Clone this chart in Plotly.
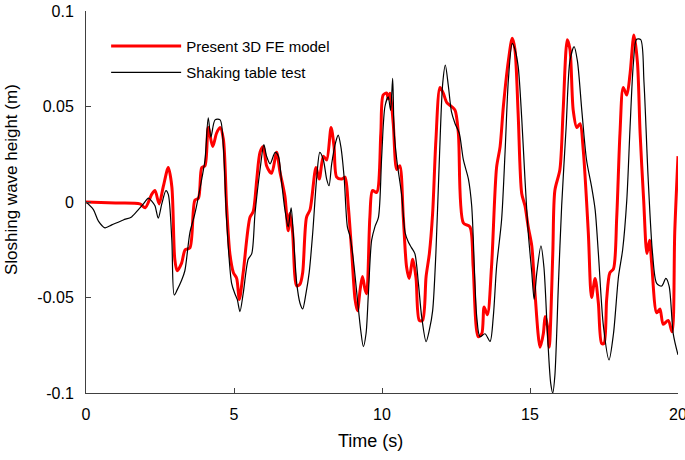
import plotly.graph_objects as go

# Present 3D FE model (red)
fe_t = [0, 1.0, 1.82, 2.0, 2.22, 2.33, 2.47, 2.61, 2.78, 2.9, 3.0, 3.08, 3.23, 3.35, 3.51, 3.68, 3.8, 3.91, 4.02, 4.13,
        4.28, 4.41, 4.53, 4.64, 4.75, 4.86, 4.98, 5.09, 5.18, 5.31, 5.54, 5.65, 5.77, 5.88, 5.99, 6.1, 6.27, 6.44, 6.55,
        6.72, 6.83, 6.89, 6.98, 7.12, 7.23, 7.32, 7.45, 7.57, 7.77, 7.88, 8.02, 8.13, 8.28, 8.38, 8.47, 8.64, 8.75, 8.86,
        8.98, 9.09, 9.17, 9.26, 9.34, 9.43, 9.48, 9.59, 9.68, 9.82, 9.96, 10.04, 10.16, 10.21, 10.27, 10.38, 10.5, 10.6,
        10.72, 10.83, 10.92, 11.04, 11.15, 11.26, 11.37, 11.49, 11.6, 11.71, 11.82, 11.96, 12.07, 12.19, 12.35, 12.47,
        12.58, 12.75, 12.97, 13.08, 13.25, 13.37, 13.45, 13.56, 13.7, 13.87, 13.99, 14.1, 14.27, 14.4, 14.49, 14.6, 14.72,
        14.83, 14.94, 15.06, 15.17, 15.34, 15.45, 15.51, 15.59, 15.65, 15.77, 15.84, 16.01, 16.12, 16.26, 16.35, 16.46,
        16.58, 16.69, 16.8, 16.97, 17.08, 17.2, 17.31, 17.42, 17.5, 17.59, 17.7, 17.82, 17.93, 18.04, 18.15, 18.27, 18.38,
        18.51, 18.63, 18.72, 18.84, 18.95, 19.04, 19.11, 19.28, 19.39, 19.5, 19.67, 19.8, 19.89, 20.0]
fe_h = [0, -0.0005, -0.001, -0.003, 0.004, 0.006, -0.001, 0.008, 0.018, 0.008, -0.030, -0.036, -0.032, -0.025, -0.024,
        0.001, 0.002, 0.018, 0.019, 0.039, 0.029, 0.036, 0.039, 0.033, -0.002, -0.027, -0.037, -0.040, -0.051, -0.037,
        -0.008, -0.005, 0.012, 0.026, 0.029, 0.019, 0.015, 0.026, 0.016, 0.003, -0.015, -0.006, -0.016, -0.044, -0.043,
        -0.037, -0.008, -0.004, 0.018, 0.012, 0.024, 0.022, 0.039, 0.029, 0.013, 0.012, 0.013, -0.002, -0.027, -0.051,
        -0.057, -0.046, -0.039, -0.046, -0.048, -0.008, 0.006, 0.005, 0.036, 0.056, 0.057, 0.054, 0.057, 0.041, 0.017,
        0.019, -0.008, -0.034, -0.040, -0.030, -0.040, -0.062, -0.062, -0.039, -0.027, -0.006, 0.032, 0.060, 0.057,
        0.052, 0.050, 0.048, 0.036, -0.011, -0.013, -0.034, -0.0705, -0.069, -0.055, -0.059, -0.034, 0.018, 0.029, 0.050,
        0.074, 0.0857, 0.080, 0.046, 0.0045, -0.002, -0.013, -0.023, -0.048, -0.076, -0.069, -0.060, -0.065, -0.076,
        -0.027, 0.006, 0.017, 0.048, 0.085, 0.080, 0.048, 0.039, 0.041, 0.027, -0.016, -0.050, -0.040, -0.053, -0.074,
        -0.074, -0.051, -0.037, -0.035, -0.008, 0.036, 0.060, 0.056, 0.067, 0.0874, 0.073, 0.036, 0.001, -0.027, -0.020,
        -0.032, -0.058, -0.056, -0.064, -0.062, -0.068, -0.016, 0.024]

# Shaking table test (black)
st_t = [0, 0.25, 0.42, 0.64, 0.87, 1.26, 1.54, 1.77, 1.94, 2.11, 2.22, 2.33, 2.44, 2.56, 2.7, 2.78, 2.9, 2.98, 3.08,
        3.23, 3.34, 3.51, 3.68, 3.91, 4.02, 4.13, 4.22, 4.36, 4.53, 4.64, 4.75, 4.92, 5.03, 5.11, 5.2, 5.31, 5.48, 5.6,
        5.71, 5.88, 6.01, 6.1, 6.22, 6.39, 6.5, 6.61, 6.72, 6.83, 6.93, 7.0, 7.12, 7.23, 7.32, 7.43, 7.54, 7.66, 7.79,
        7.9, 8.02, 8.13, 8.21, 8.3, 8.44, 8.52, 8.61, 8.72, 8.83, 8.92, 9.03, 9.17, 9.28, 9.37, 9.46, 9.54, 9.65, 9.76,
        9.88, 9.99, 10.1, 10.21, 10.29, 10.36, 10.41, 10.5, 10.67, 10.78, 10.89, 11.0, 11.11, 11.23, 11.34, 11.49, 11.6,
        11.71, 11.82, 11.93, 12.05, 12.14, 12.24, 12.35, 12.47, 12.61, 12.75, 12.92, 13.03, 13.2, 13.31, 13.48, 13.65,
        13.76, 13.87, 14.04, 14.16, 14.27, 14.4, 14.49, 14.6, 14.72, 14.83, 14.94, 15.06, 15.14, 15.23, 15.37, 15.47,
        15.59, 15.7, 15.77, 15.84, 15.96, 16.07, 16.22, 16.35, 16.49, 16.6, 16.75, 16.91, 17.08, 17.2, 17.31, 17.48,
        17.67, 17.82, 17.99, 18.13, 18.27, 18.38, 18.49, 18.6, 18.74, 18.85, 18.99, 19.14, 19.28, 19.45, 19.59, 19.7,
        19.84, 20.0]
st_h = [0, -0.004, -0.010, -0.0135, -0.012, -0.0094, -0.0078, -0.004, -0.001, 0.002, 0.0005, -0.002, -0.0085, -0.001,
        0.006, 0.004, -0.020, -0.0487, -0.046, -0.041, -0.036, -0.016, -0.006, 0.012, 0.022, 0.044, 0.034, 0.043, 0.043,
        0.029, -0.0094, -0.0426, -0.048, -0.051, -0.0574, -0.048, -0.030, -0.027, -0.006, 0.017, 0.030, 0.024, 0.020,
        0.026, 0.024, 0.010, -0.004, -0.013, -0.003, -0.016, -0.0426, -0.053, -0.056, -0.048, -0.037, -0.016, 0.012,
        0.026, 0.022, 0.012, 0.0085, 0.020, 0.0316, 0.035, 0.029, 0.013, -0.013, -0.018, -0.030, -0.051, -0.067,
        -0.0757, -0.069, -0.048, -0.020, -0.013, -0.008, 0.024, 0.050, 0.055, 0.048, 0.0647, 0.037, 0.022, 0.003,
        -0.016, -0.021, -0.024, -0.027, -0.0426, -0.060, -0.0731, -0.067, -0.057, -0.027, 0.019, 0.062, 0.0717, 0.061,
        0.047, 0.041, 0.036, 0.022, 0.012, -0.002, -0.060, -0.0705, -0.069, -0.073, -0.060, -0.034, -0.0094, 0.027,
        0.064, 0.083, 0.080, 0.071, 0.044, 0.012, -0.016, -0.037, -0.051, -0.037, -0.023, -0.034, -0.069, -0.095,
        -0.100, -0.091, -0.043, -0.002, 0.039, 0.074, 0.0813, 0.074, 0.048, 0.022, 0.008, -0.004, -0.027, -0.065,
        -0.0827, -0.069, -0.039, -0.025, 0.001, 0.039, 0.072, 0.0852, 0.085, 0.063, 0.013, -0.027, -0.0426, -0.044,
        -0.040, -0.044, -0.069, -0.080]

x_ticks = [0, 5, 10, 15, 20]
y_ticks = [-0.1, -0.05, 0, 0.05, 0.1]
y_tick_text = ["-0.1", "-0.05", "0", "0.05", "0.1"]

fig = go.Figure()
fig.add_trace(go.Scatter(x=fe_t, y=fe_h, mode="lines", name="Present 3D FE model", legendgroup="fe",
                         line=dict(color="#ff0000", width=3, shape="spline", smoothing=0.8)))
fig.add_trace(go.Scatter(x=st_t, y=st_h, mode="lines", name="Shaking table test", legendgroup="st",
                         line=dict(color="#000000", width=1.2, shape="spline", smoothing=0.8)))

font_family = "Liberation Sans, Arial, sans-serif"
fig.update_layout(
    width=685, height=460,
    margin=dict(l=86, r=7, t=11, b=67),
    paper_bgcolor="white", plot_bgcolor="white",
    font=dict(family=font_family, size=16, color="#000000"),
    showlegend=True,
    legend=dict(x=0.034, y=0.951, xanchor="left", yanchor="top", bgcolor="rgba(0,0,0,0)",
                font=dict(size=15), itemwidth=70, traceorder="grouped", tracegroupgap=4),
    xaxis=dict(range=[0, 20], tickvals=x_ticks, ticks="inside", ticklen=5, tickcolor="#404040",
               showline=True, linecolor="#404040", linewidth=1, showgrid=False, zeroline=False,
               automargin=False, ticklabelstandoff=7, ticklabeloverflow="allow",
               tickfont=dict(size=16)),
    yaxis=dict(range=[-0.1, 0.1], tickvals=y_ticks, ticktext=y_tick_text, ticks="inside", ticklen=5,
               tickcolor="#404040", showline=True, linecolor="#404040", linewidth=1, showgrid=False,
               zeroline=False, automargin=False, ticklabelstandoff=8, ticklabeloverflow="allow",
               tickfont=dict(size=16)),
    annotations=[
        dict(text="Sloshing wave height (m)", xref="paper", yref="paper", x=-0.1267, y=0.560,
             xanchor="center", yanchor="middle", textangle=-90, showarrow=False, font=dict(size=17)),
        dict(text="Time (s)", xref="paper", yref="paper", x=0.481, y=-0.1257,
             xanchor="center", yanchor="middle", showarrow=False, font=dict(size=18)),
    ],
)

# Remove the browser's default 8px body margin so the figure fills the window exactly.
fig.write_html("out.html", config={"displayModeBar": False},
               post_script="document.body.style.margin='0';document.body.style.overflow='hidden';")
